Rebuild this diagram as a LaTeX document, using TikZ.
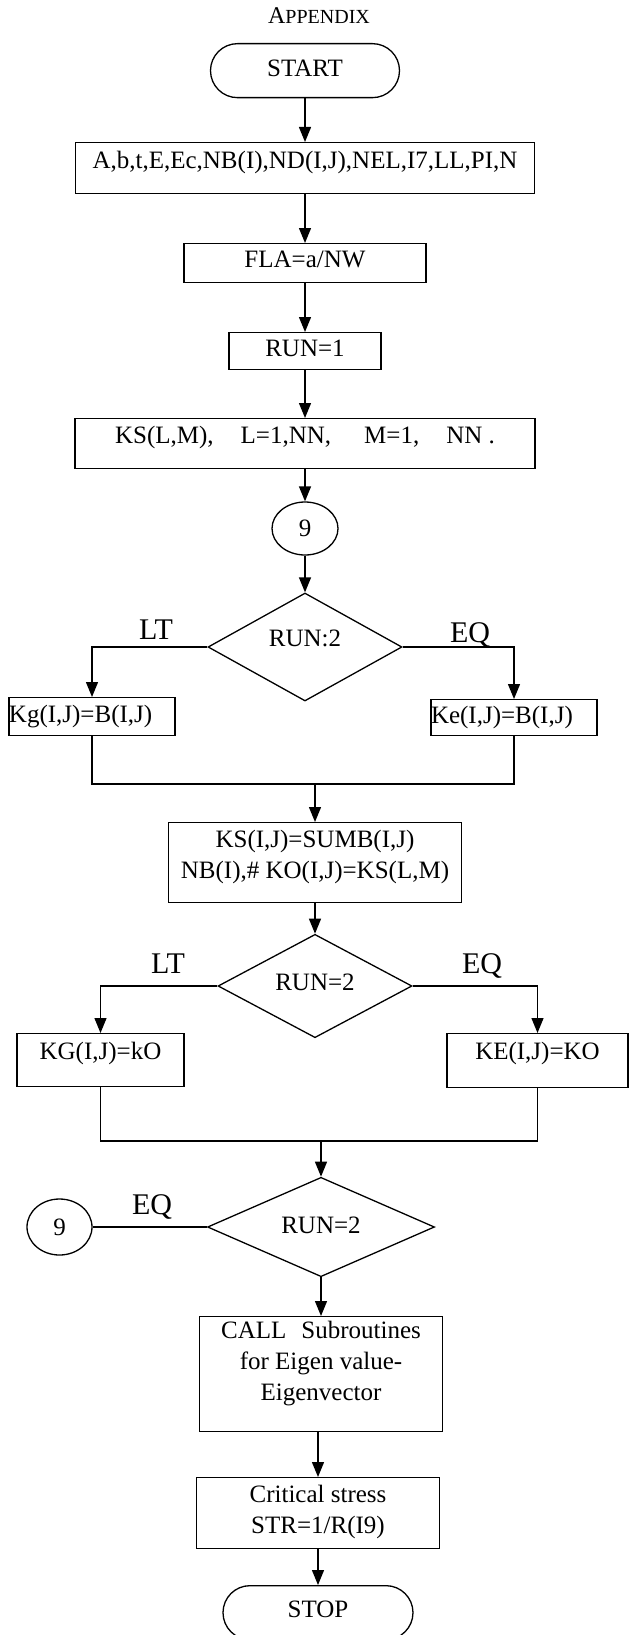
\documentclass[tikz,border=0pt]{standalone}
\usepackage{fontspec}
\setmainfont{Liberation Serif}
\usetikzlibrary{arrows.meta,shapes.geometric}

\begin{document}
\begin{tikzpicture}[x=1pt,y=-1pt,line width=1.3pt]
\tikzstyle{every node}=[inner sep=0pt, font=\fontsize{25}{31}\selectfont]
\tikzstyle{box}=[draw, rectangle, anchor=north, align=center]
\tikzstyle{term}=[box, rounded corners=27pt]
\tikzstyle{dec}=[draw, diamond]
\tikzstyle{conn}=[draw, ellipse]
\tikzstyle{lab}=[anchor=base, font=\fontsize{30}{30}\selectfont]
\tikzstyle{arr}=[-{Triangle[length=15pt,width=12pt]}]
\useasboundingbox (0,0) rectangle (629,1635);
\draw (319,24) node (title) [anchor=base] {{\fontsize{24}{24}\selectfont A}{\fontsize{20}{20}\selectfont PPENDIX}};
\draw (305,43) node (start) [term, minimum width=189pt, text height=33pt, text depth=21pt] {START};
\draw (305,142) node (par) [box, minimum width=459pt, text height=26pt, text depth=25pt] {A,b,t,E,Ec,NB(I),ND(I,J),NEL,I7,LL,PI,N};
\draw (305,243) node (fla) [box, minimum width=242pt, text height=24pt, text depth=15pt] {FLA=a/NW};
\draw (305,332) node (run1) [box, minimum width=152pt, text height=24pt, text depth=13pt] {RUN=1};
\draw (305,418) node (kslm) [box, minimum width=460pt, text height=25pt, text depth=25pt] {KS(L,M),\hspace{27pt}L=1,NN,\hspace{33pt}M=1,\hspace{27pt}NN .};
\draw (305,528.5) node (c1) [conn, minimum width=66pt, minimum height=53pt] {9};
\draw (305,647) node (d1) [dec, minimum width=194pt, minimum height=108pt, text height=10pt, text depth=12pt] {RUN:2};
\draw (156,639) node (lt1) [lab] {LT};
\draw (470,642) node (eq1) [lab] {EQ};
\draw (92,697) node (kg) [box, text height=25pt, text depth=13pt] {\makebox[166pt][l]{Kg(I,J)=B(I,J)}};
\draw (514,699) node (ke) [box, text height=24pt, text depth=12pt] {\makebox[166pt][l]{Ke(I,J)=B(I,J)}};
\coordinate (j1) at (315,784);
\draw (315,822) node (ks2) [box, minimum width=293pt, text height=56pt, text depth=24pt] {KS(I,J)=SUMB(I,J)\\NB(I),\# KO(I,J)=KS(L,M)};
\draw (315,986) node (d2) [dec, minimum width=194pt, minimum height=84pt, text height=16pt, text depth=8pt] {RUN=2};
\draw (168,973) node (lt2) [lab] {LT};
\draw (482,973) node (eq2) [lab] {EQ};
\draw (100.5,1033) node (kg2) [box, minimum width=167pt, text height=26pt, text depth=27pt] {KG(I,J)=kO};
\draw (537.5,1033) node (ke2) [box, minimum width=181pt, text height=26pt, text depth=28pt] {KE(I,J)=KO};
\coordinate (j2) at (321,1141);
\draw (321,1227) node (d3) [dec, minimum width=227pt, minimum height=75pt, text height=16pt, text depth=4pt] {RUN=2};
\draw (152,1214) node (eq3) [lab] {EQ};
\draw (59.5,1227) node (c2) [conn, minimum width=65pt, minimum height=56pt] {9};
\draw (321,1316) node (call) [box, minimum width=243pt, text height=84pt, text depth=31pt] {CALL\hspace{15pt}Subroutines\\for Eigen value-\\Eigenvector};
\draw (318,1477) node (crit) [box, minimum width=243pt, text height=56pt, text depth=15pt] {Critical stress\\STR=1/R(I9)};
\draw (318,1585) node (stop) [term, minimum width=190pt, text height=32pt, text depth=22pt] {STOP};
\draw[arr] (start) -- (par);
\draw[arr] (par) -- (fla);
\draw[arr] (fla) -- (run1);
\draw[arr] (run1) -- (kslm);
\draw[arr] (kslm) -- (c1);
\draw[arr] (c1) -- (d1);
\draw[arr] (d1.west) -| (kg.north);
\draw[arr] (d1.east) -| (ke.north);
\draw (kg.south) |- (j1) -| (ke.south);
\draw[arr] (j1) -- (ks2);
\draw[arr] (ks2) -- (d2);
\draw[arr] (d2.west) -| (kg2.north);
\draw[arr] (d2.east) -| (ke2.north);
\draw (kg2.south) |- (j2) -| (ke2.south);
\draw[arr] (j2) -- (d3);
\draw (d3.west) -- (c2.east);
\draw[arr] (d3) -- (call);
\draw[arr] (call.south -| crit.north) -- (crit.north);
\draw[arr] (crit) -- (stop);
\end{tikzpicture}
\end{document}
